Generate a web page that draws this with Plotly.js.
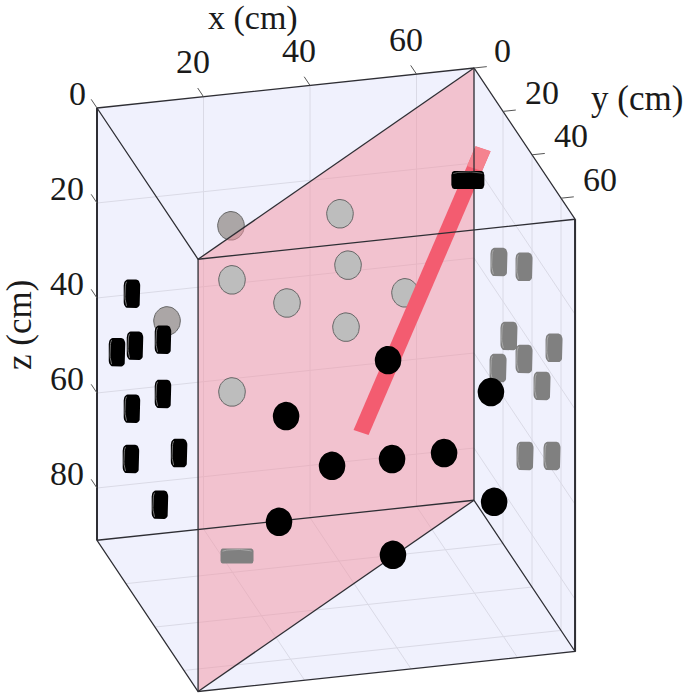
<!DOCTYPE html>
<html>
<head>
<meta charset="utf-8">
<script src="https://cdn.plot.ly/plotly-3.0.1.min.js"></script>
<style>html,body{margin:0;padding:0;background:#fff}#plot{width:685px;height:696px}</style>
</head>
<body>
<div id="plot"></div>
<script>
// Box extents (cm)
const xMax = 70.8, yMax = 69.7, zMax = 91;
const xTicks = [20, 40, 60];
const yTicks = [0, 20, 40, 60];
const zTicks = [0, 20, 40, 60, 80];
const gridZ = [20, 40, 60, 80];
const gridXY = [20, 40, 60];

// Discs on the rear wall (y = 0): outside / behind the plane
const rearOutX = [25.16, 13.15];
const rearOutZ = [27.8, 46.4];
const rearInX = [45.63, 25.35, 47.14, 35.68, 57.84, 46.76, 25.35];
const rearInZ = [27.7, 39.2, 38.7, 45.3, 45.8, 51.7, 62.8];

// Discs on the front wall (y = yMax)
const frontX = [35.68, 16.53, 25.16, 36.43, 46.2, 55.0, 55.6, 15.2, 36.6];
const frontZ = [25.5, 35.0, 46.5, 46.4, 46.3, 34.5, 57.7, 57.1, 66.6];

// Side projection on the left wall (x = 0)
const leftY = [24.1, 13.8, 26.2, 45.5, 45.5, 24.1, 23.4, 56.6, 43.4];
const leftZ = [28.1, 45.1, 38.1, 28.0, 39.4, 52.3, 63.2, 46.8, 63.7];

// Side projection on the right wall (x = xMax)
const rightY = [17.2, 34.5, 24.1, 34.5, 55.2, 16.6, 46.9, 35.2, 53.8];
const rightZ = [33.0, 26.1, 45.4, 45.5, 33.7, 55.6, 45.5, 65.6, 57.1];

// Single end-on discs on the floor and at the top
const floorDisc = [22.7, 13.2];
const topDisc = [56.6, 47.9];

// Rod end points (x, y, z in cm)
const rodStart = [72.5, 0, 17.2];
const rodEnd = [41.8, 28.6, 60.2];

// Axonometric view of the cm values onto a plain cartesian plane
function px(x, y) { return 97 + 5.325 * x + 1.45 * y; }
function py(x, y, z) { return 108 - 0.565 * x + 2.17 * y + 4.75 * z; }
const P = (x, y, z) => [px(x, y), py(x, y, z)];

function poly(list, color, lineColor, lineWidth, opacity) {
  const xs = [], ys = [];
  list.forEach(pts => { pts.forEach(p => { xs.push(p[0]); ys.push(p[1]); }); xs.push(null); ys.push(null); });
  return { type: 'scatter', mode: 'lines', x: xs, y: ys, fill: 'toself', fillcolor: color,
    line: { color: lineColor || 'rgba(0,0,0,0)', width: lineWidth || 0 }, opacity: opacity === undefined ? 1 : opacity,
    hoverinfo: 'skip', showlegend: false };
}
function lines(list, color, width) {
  const xs = [], ys = [];
  list.forEach(pts => { pts.forEach(p => { xs.push(p[0]); ys.push(p[1]); }); xs.push(null); ys.push(null); });
  return { type: 'scatter', mode: 'lines', x: xs, y: ys, line: { color: color, width: width },
    hoverinfo: 'skip', showlegend: false };
}
function ellipse(c, rx, ry) {
  const pts = [];
  for (let i = 0; i <= 40; i++) { const t = i / 40 * 2 * Math.PI; pts.push([c[0] + rx * Math.cos(t), c[1] + ry * Math.sin(t)]); }
  return pts;
}
function topArc(c, w, h) {
  const pts = [];
  for (let i = 0; i <= 20; i++) {
    const a = (200 + i * 140 / 20) * Math.PI / 180;
    pts.push([c[0] + (w / 2 - 1) * Math.cos(a), c[1] - h / 2 + 3.5 + 2.6 * Math.sin(a)]);
  }
  return pts;
}
function rounded(c, w, h, rx, ry) {
  const pts = [];
  const corners = [[w / 2 - rx, -h / 2 + ry, -90], [w / 2 - rx, h / 2 - ry, 0], [-w / 2 + rx, h / 2 - ry, 90], [-w / 2 + rx, -h / 2 + ry, 180]];
  corners.forEach(k => {
    for (let i = 0; i <= 6; i++) {
      const a = (k[2] + i * 15) * Math.PI / 180;
      pts.push([c[0] + k[0] + rx * Math.cos(a), c[1] + k[1] + ry * Math.sin(a)]);
    }
  });
  pts.push(pts[0]);
  return pts;
}
function arcLeft(c, w, h) {
  const pts = [];
  for (let i = 0; i <= 12; i++) {
    const a = (-80 + i * 160 / 12) * Math.PI / 180;
    pts.push([c[0] - w / 2 + 3.2 - 2.0 * Math.cos(a), c[1] + (h / 2 - 2) * Math.sin(a)]);
  }
  return pts;
}

const A = P(0, 0, 0), B = P(xMax, 0, 0), C = P(xMax, yMax, 0), D = P(0, yMax, 0);
const E = P(0, 0, zMax), F = P(xMax, 0, zMax), G = P(xMax, yMax, zMax), H = P(0, yMax, zMax);

const grid = [];
xTicks.forEach(x => {
  grid.push([P(x, 0, 0), P(x, 0, zMax)]);
  grid.push([P(x, 0, zMax), P(x, yMax, zMax)]);
});
gridXY.forEach(y => {
  grid.push([P(xMax, y, 0), P(xMax, y, zMax)]);
  grid.push([P(0, y, zMax), P(xMax, y, zMax)]);
});
gridZ.forEach(z => {
  grid.push([P(0, 0, z), P(xMax, 0, z)]);
  grid.push([P(xMax, 0, z), P(xMax, yMax, z)]);
});

const ticks = [];
const labels = [];
const label = (p, dx, dy, t) => labels.push({ x: p[0] + dx, y: p[1] + dy, text: t, showarrow: false, xanchor: 'center', yanchor: 'middle',
  font: { family: 'Liberation Serif', size: 34, color: '#1a1a1a' } });
xTicks.forEach(x => { ticks.push([P(x, 0, 0), P(x, -4, 0)]); label(P(x, 0, 0), -11, -35, String(x)); });
zTicks.forEach(z => { ticks.push([P(0, 0, z), P(0, -4, z)]); label(P(0, 0, z), -20 - (z ? 10 : 0), -15, String(z)); });
yTicks.forEach(y => { ticks.push([P(xMax, y, 0), P(xMax + 2.4, y, 0)]); label(P(xMax, y, 0), y ? 39 : 28, y ? -19 : -18, String(y)); });

const titleFont = { family: 'Liberation Serif', size: 35, color: '#1a1a1a' };
labels.push({ x: 253, y: 18, text: 'x (cm)', showarrow: false, font: { family: 'Liberation Serif', size: 34, color: '#1a1a1a' }, xanchor: 'center', yanchor: 'middle' });
labels.push({ x: 637, y: 98, text: 'y (cm)', showarrow: false, font: titleFont, xanchor: 'center', yanchor: 'middle' });
labels.push({ x: 19, y: 325, text: 'z (cm)', showarrow: false, font: titleFont, textangle: -90, xanchor: 'center', yanchor: 'middle' });

// Rod as a thick band around its centre line, with slanted end caps
function rodBand(a, b) {
  const p = P(a[0], a[1], a[2]), q = P(b[0], b[1], b[2]);
  const ox = 7.5, oy = 2.5;
  return [[p[0] - ox, p[1] - oy], [p[0] + ox, p[1] + oy], [q[0] + ox, q[1] + oy], [q[0] - ox, q[1] - oy], [p[0] - ox, p[1] - oy]];
}
function lerp3(a, b, t) { return [a[0] + (b[0] - a[0]) * t, a[1] + (b[1] - a[1]) * t, a[2] + (b[2] - a[2]) * t]; }

const leftC = leftY.map((y, i) => P(0, y, leftZ[i]));
const rightC = rightY.map((y, i) => P(xMax, y, rightZ[i]));
const floorC = P(floorDisc[0], floorDisc[1], zMax);
const topC = P(topDisc[0], topDisc[1], 0);

const traces = [
  poly([[A, B, C, G, H, E, A]], '#f0f1fd'),
  lines(grid, '#dadae6', 1),
  poly(rearOutX.map((x, i) => ellipse(P(x, 0, rearOutZ[i]), 13.3, 14.3)), '#aba6a6', '#666', 1),
  poly([[B, D, H, F, B]], 'rgba(244,147,161,0.5)'),
  poly(rearInX.map((x, i) => ellipse(P(x, 0, rearInZ[i]), 13.3, 14.3)), '#bdbdbd', '#666', 1),
  poly([rodBand(rodStart, rodEnd)], '#f35c70'),
  poly([rodBand(rodStart, lerp3(rodStart, rodEnd, 0.07))], '#f5838f'),
  lines([[A, E, H, G, C, B, A], [A, D, C], [D, H], [B, F, G], [E, F], [B, D], [H, F]], '#2e2e34', 1.3),
  lines([[A, E], [C, G]], '#2e2e34', 2),
  lines(ticks, '#555', 1),
  poly(rightC.map(c => rounded(c, 17, 28.5, 4, 6)), '#808080'),
  lines(rightC.map(c => arcLeft(c, 17, 28.5)), '#a8a8a8', 1),
  poly(leftC.map(c => rounded(c, 16.5, 28.5, 4, 6)), '#000'),
  lines(leftC.map(c => arcLeft(c, 16.5, 28.5)), '#777', 1),
  poly([rounded(floorC, 33, 15, 2, 3)], '#808080'),
  lines([topArc(floorC, 33, 15)], '#a8a8a8', 1),
  poly([rounded(topC, 33, 18, 3, 4)], '#000'),
  lines([topArc(topC, 33, 18)], '#777', 0.8),
  poly(frontX.map((x, i) => ellipse(P(x, yMax, frontZ[i]), 13.3, 14.3)), '#000')
];

const layout = {
  width: 685, height: 696,
  margin: { l: 0, r: 0, t: 0, b: 0 },
  paper_bgcolor: '#fff', plot_bgcolor: '#fff',
  xaxis: { range: [0, 685], visible: false, fixedrange: true },
  yaxis: { range: [696, 0], visible: false, fixedrange: true },
  annotations: labels,
  showlegend: false
};
Plotly.newPlot('plot', traces, layout, { displayModeBar: false, staticPlot: true });
</script>
</body>
</html>
